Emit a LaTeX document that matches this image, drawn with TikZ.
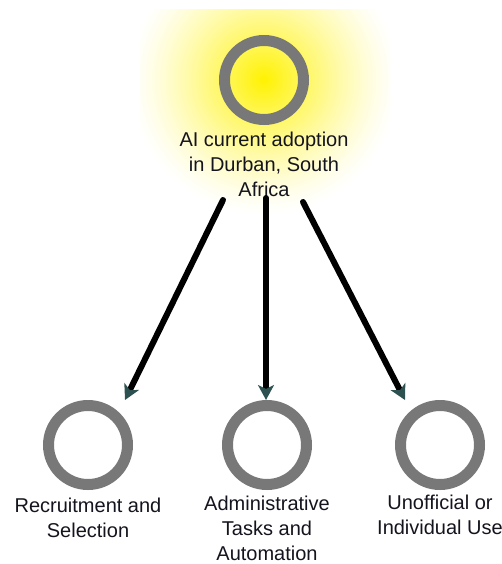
\documentclass[tikz,border=0pt]{standalone}
\usepackage{fontspec}
\setmainfont{Liberation Sans}
\usetikzlibrary{arrows.meta}

\definecolor{ringgray}{RGB}{120,120,120}
\definecolor{headcol}{RGB}{45,80,80}
\definecolor{labelcol}{RGB}{20,20,30}

\tikzset{
  ring/.style={circle, draw=ringgray, line width=11pt, minimum size=79pt, inner sep=0pt},
  caption/.style={anchor=north, inner sep=0pt, align=center, text=labelcol,
    font=\fontsize{20}{25}\selectfont},
  conn/.style={line width=6pt, black, line cap=round,
    -{Stealth[length=15pt,width=16pt,inset=4pt,color=headcol]}}
}

\begin{document}
\begin{tikzpicture}[x=1pt,y=-1pt]
  \useasboundingbox (0,0) rectangle (502,564);

  % soft yellow halo behind the central topic, cut off square at the top
  \begin{scope}
    \clip (140,10) rectangle (390,230);
    \foreach \r in {135,134,...,1} {
      \pgfmathsetmacro{\p}{100*(1-\r/135)^1.3}
      \fill[yellow!\p!white] (264,80) circle (\r);
    }
  \end{scope}

  % central topic
  \node[ring] (top) at (264,80) {};
  \node[caption] (toplabel) at (264,132) {AI current adoption\\in Durban, South\\Africa};

  % three areas of use
  \node[ring] (c1) at (88,445) {};
  \node[ring] (c2) at (267,445) {};
  \node[ring] (c3) at (440,445) {};
  \node[caption] (l1) at (88,498) {Recruitment and\\Selection};
  \node[caption] (l2) at (267,496) {Administrative\\Tasks and\\Automation};
  \node[caption] (l3) at (440,495) {Unofficial or\\Individual Use};

  % connector ends
  \coordinate (s1) at (223,200);
  \coordinate (s2) at (266,198);
  \coordinate (s3) at (303,202);
  \coordinate (e1) at (125,400);
  \coordinate (e2) at (266,400);
  \coordinate (e3) at (405,400);

  \draw[conn] (s1) -- (e1);
  \draw[conn] (s2) -- (e2);
  \draw[conn] (s3) -- (e3);
\end{tikzpicture}
\end{document}
